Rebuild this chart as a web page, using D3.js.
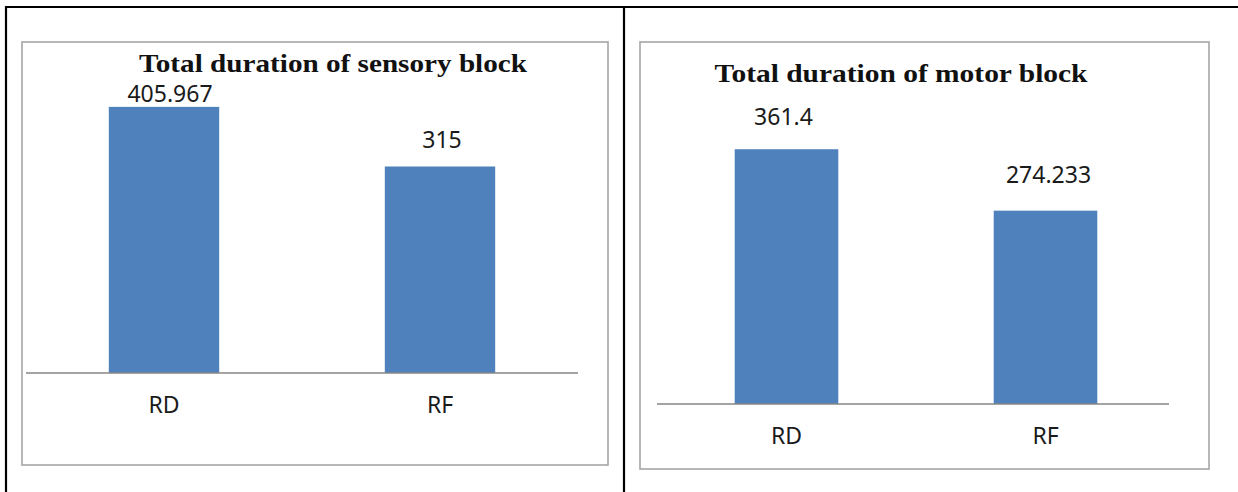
<!DOCTYPE html>
<html>
<head>
<meta charset="utf-8">
<script src="https://cdn.jsdelivr.net/npm/d3@7"></script>
<style>
  html, body { margin: 0; padding: 0; background: #fff; }
  svg { display: block; }
</style>
</head>
<body>
<svg id="svg"></svg>
<script>
// chart data
const categories = ["RD", "RF"];

const sensoryTitle = "Total duration of sensory block";
const sensoryValues = [405.967, 315];
const sensoryLabels = ["405.967", "315"];
const sensoryAxisMax = 450;

const motorTitle = "Total duration of motor block";
const motorValues = [361.4, 274.233];
const motorLabels = ["361.4", "274.233"];
const motorAxisMax = 400;

const barColor = "#4f81bd";

let svgElement = d3.select("#svg")
                   .attr("width", 1238)
                   .attr("height", 492);

// table frame around the two charts
let frame = svgElement.append("g").attr("stroke", "#000").attr("stroke-width", 2.2);
frame.append("line").attr("x1", 5).attr("x2", 1238).attr("y1", 7).attr("y2", 7);
frame.append("line").attr("x1", 6).attr("x2", 6).attr("y1", 6).attr("y2", 492);
frame.append("line").attr("x1", 624).attr("x2", 624).attr("y1", 6).attr("y2", 492);

const charts = [
  { title: sensoryTitle, values: sensoryValues, labels: sensoryLabels, max: sensoryAxisMax,
    box: { x: 22, y: 42, w: 586, h: 423 },
    xRange: [26, 578], yRange: [373, 78], axisEnd: 578,
    titleX: 333, titleY: 72, titleLen: 388,
    labelGap: [5, 19], labelShift: [6, 2] },
  { title: motorTitle, values: motorValues, labels: motorLabels, max: motorAxisMax,
    box: { x: 640, y: 42, w: 569, h: 427 },
    xRange: [657, 1175], yRange: [404, 122], axisEnd: 1169,
    titleX: 901, titleY: 82, titleLen: 373,
    labelGap: [24, 28], labelShift: [-3, 3] }
];

charts.forEach(c => {
  let g = svgElement.append("g");

  g.append("rect")
   .attr("x", c.box.x).attr("y", c.box.y)
   .attr("width", c.box.w).attr("height", c.box.h)
   .attr("fill", "#fff")
   .attr("stroke", "#a5a5a5")
   .attr("stroke-width", 1.6);

  let xScale = d3.scaleBand()
                 .domain(categories)
                 .range(c.xRange)
                 .paddingInner(0.6)
                 .paddingOuter(0.3);

  let yScale = d3.scaleLinear()
                 .domain([0, c.max])
                 .range(c.yRange);

  g.selectAll(".bar")
   .data(c.values)
   .join("rect")
   .attr("class", "bar")
   .attr("x", (d, i) => xScale(categories[i]))
   .attr("y", d => yScale(d))
   .attr("width", xScale.bandwidth())
   .attr("height", d => yScale(0) - yScale(d))
   .attr("fill", barColor);

  g.selectAll(".value")
   .data(c.values)
   .join("text")
   .attr("class", "value")
   .attr("x", (d, i) => xScale(categories[i]) + xScale.bandwidth() / 2 + c.labelShift[i])
   .attr("y", (d, i) => yScale(d) - c.labelGap[i])
   .attr("text-anchor", "middle")
   .attr("font-family", "'Noto Sans', sans-serif")
   .attr("font-size", 23)
   .attr("fill", "#1a1a1a")
   .text((d, i) => c.labels[i]);

  let axis = g.append("g")
              .attr("transform", `translate(0, ${yScale(0)})`)
              .call(d3.axisBottom(xScale).tickSize(0).tickPadding(24));

  axis.select(".domain").remove();
  axis.append("line")
      .attr("x1", c.xRange[0]).attr("x2", c.axisEnd)
      .attr("stroke", "#868686").attr("stroke-width", 1.3);
  axis.selectAll("text")
      .attr("font-family", "'Noto Sans', sans-serif")
      .attr("font-size", 23)
      .attr("fill", "#1a1a1a");

  g.append("text")
   .attr("x", c.titleX)
   .attr("y", c.titleY)
   .attr("text-anchor", "middle")
   .attr("font-family", "'Liberation Serif', 'Times New Roman', serif")
   .attr("font-weight", "bold")
   .attr("font-size", 26)
   .attr("textLength", c.titleLen)
   .attr("lengthAdjust", "spacingAndGlyphs")
   .attr("fill", "#111")
   .text(c.title);
});
</script>
</body>
</html>
